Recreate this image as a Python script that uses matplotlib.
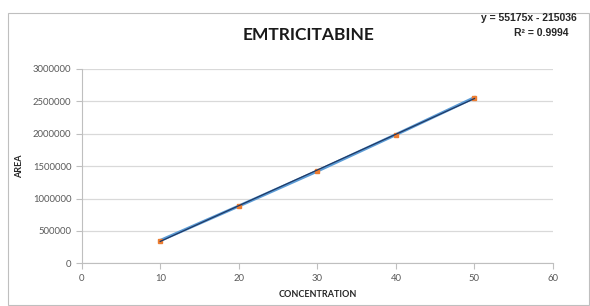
import matplotlib
matplotlib.use("Agg")
import matplotlib.pyplot as plt
import numpy as np
from matplotlib.patches import Rectangle

concentration = [10, 20, 30, 40, 50]
area = [352000, 884000, 1424000, 1987000, 2558000]
x_ticks = [0, 10, 20, 30, 40, 50, 60]
y_ticks = [0, 500000, 1000000, 1500000, 2000000, 2500000, 3000000]
title = "EMTRICITABINE"
equation = "y = 55175x - 215036"
r2_text = "R² = 0.9994"

plt.rcParams['font.family'] = ['Lato', 'DejaVu Sans']

fig = plt.figure(figsize=(5.9, 3.06), dpi=100)
fig.patches.append(Rectangle((8/590, 0.002), 1 - 8/590 - 0.002, 1 - 13/306 - 0.002,
                             transform=fig.transFigure, fill=False,
                             edgecolor='#BFBFBF', linewidth=0.8))
ax = fig.add_axes([81.7/590, 1 - 263.3/306, (553 - 81.7)/590, (263.3 - 69)/306])

ax.set_xlim(0, 60)
ax.set_ylim(0, 3000000)
ax.set_xticks(x_ticks)
ax.set_yticks(y_ticks)
ax.set_yticklabels([str(v) for v in y_ticks])
ax.grid(axis='y', color='#D9D9D9', linewidth=0.9)
ax.set_axisbelow(True)
for s in ['top', 'right']:
    ax.spines[s].set_visible(False)
for s in ['left', 'bottom']:
    ax.spines[s].set_color('#BFBFBF')
    ax.spines[s].set_linewidth(0.8)
ax.tick_params(axis='both', colors='#BFBFBF', labelcolor='#595959', labelsize=6.8,
               length=4, width=0.8, direction='out')
ax.tick_params(axis='x', pad=4)

ax.plot(concentration, area, color='#5B9BD5', linewidth=2.2, marker='s',
        markersize=3.3, markerfacecolor='#ED7D31', markeredgecolor='#ED7D31', zorder=3)
coef = np.polyfit(concentration, area, 1)
xs = np.array([concentration[0], concentration[-1]])
ax.plot(xs, np.polyval(coef, xs), color='#1F3864', linewidth=0.9, zorder=4)

ax.set_xlabel("CONCENTRATION", fontsize=6.5, fontweight='bold', color='#262626', labelpad=5)
ax.set_ylabel("AREA", fontsize=6.5, fontweight='bold', color='#262626', labelpad=6)

fig.text(0.523, 1 - 35/306, title, fontsize=12.5, fontweight='bold', color='#1a1a1a',
         ha='center', va='center')
fig.text(0.897, 1 - 18/306, equation, fontsize=7.5, fontweight='bold', color='#262626',
         ha='center', va='center', family=['Liberation Sans', 'DejaVu Sans'])
fig.text(0.917, 1 - 33/306, r2_text, fontsize=7.5, fontweight='bold', color='#262626',
         ha='center', va='center', family=['Liberation Sans', 'DejaVu Sans'])

fig.savefig("out.png", dpi=100)
